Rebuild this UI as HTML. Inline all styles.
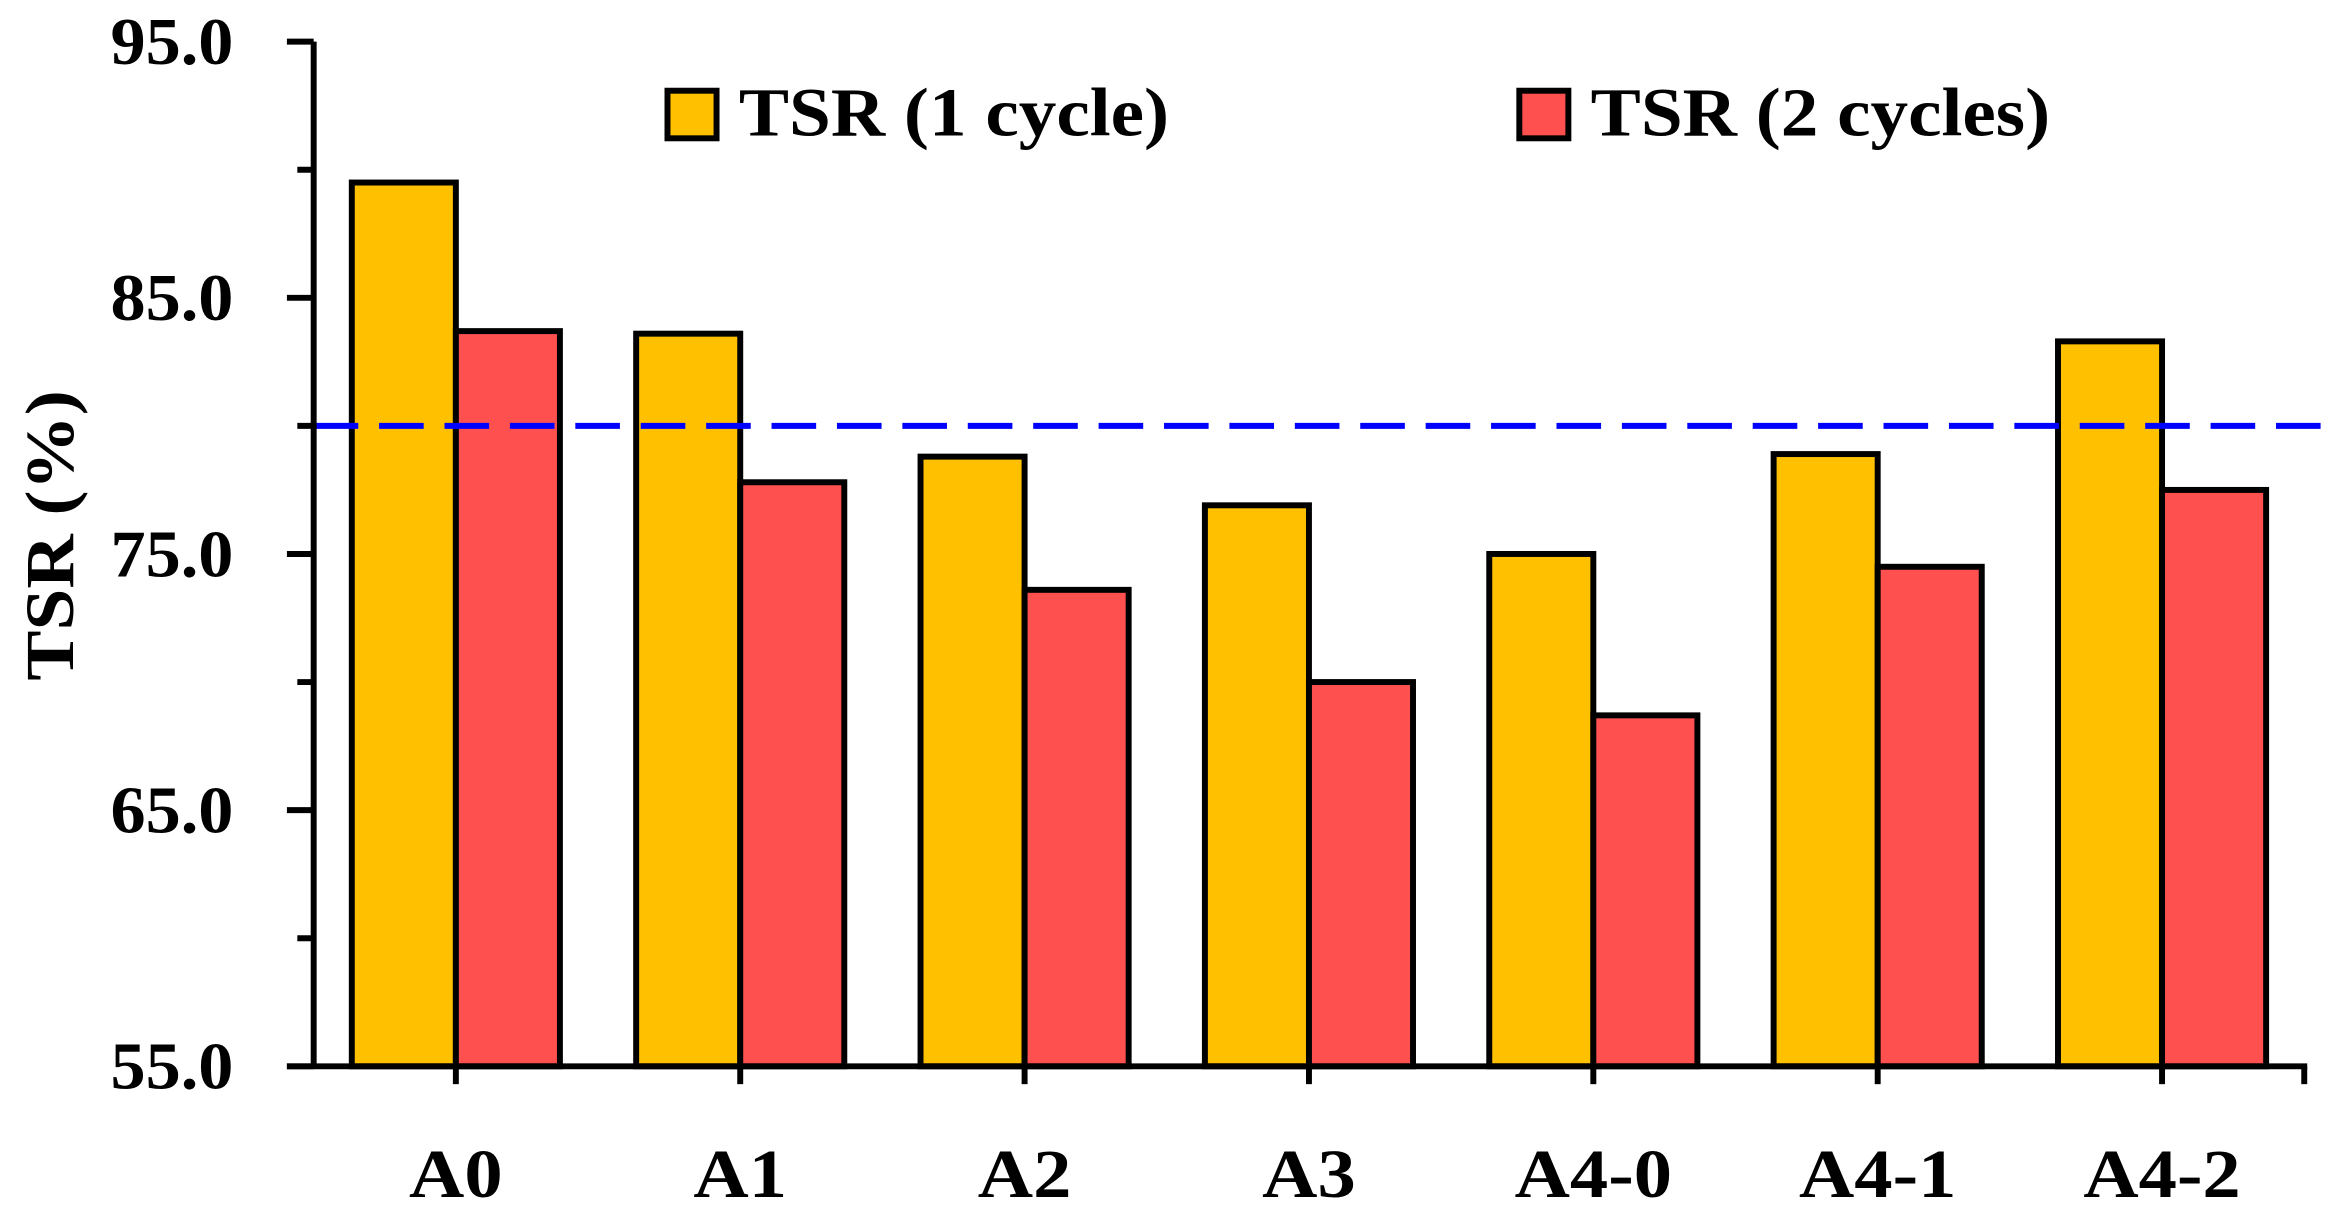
<!DOCTYPE html>
<html><head><meta charset="utf-8"><style>html,body{margin:0;padding:0;background:#fff}svg{display:block}</style></head>
<body>
<svg id="chart" width="2331" height="1218" viewBox="0 0 1568 819" preserveAspectRatio="none" xmlns="http://www.w3.org/2000/svg" font-family="'Liberation Serif', serif" font-weight="bold"></svg>
<script>
const categories = ["A0","A1","A2","A3","A4-0","A4-1","A4-2"];
const tsr1 = [89.5,83.6,78.8,76.9,75.0,78.9,83.3];
const tsr2 = [83.7,77.8,73.6,70.0,68.7,74.5,77.5];
const yTicks = [55,65,75,85,95];
const yMinor = [60,70,80,90];
const threshold = [80];
const seriesNames = ["TSR (1 cycle)","TSR (2 cycles)"];

const svg = document.getElementById('chart');
const NS = 'http://www.w3.org/2000/svg';
const X0 = 211, X1 = 1550, Ytop = 28, Ybot = 717, ymin = 55, ymax = 95;
const y = v => Ybot - (v - ymin) / (ymax - ymin) * (Ybot - Ytop);
const bw = (X1 - X0) / categories.length;
const cx = i => X0 + bw * (i + 0.5);
const barW = 70;
function mk(tag, attrs){const e=document.createElementNS(NS,tag);for(const k in attrs)e.setAttribute(k,attrs[k]);svg.appendChild(e);return e;}
function stretch(t, f){const L=t.getComputedTextLength();t.setAttribute('textLength',L*f);t.setAttribute('lengthAdjust','spacingAndGlyphs');}

// bars
categories.forEach((c,i)=>{
  const b1 = mk('rect',{x:cx(i)-barW,y:y(tsr1[i]),width:barW,height:Ybot-y(tsr1[i]),fill:'#FFC000',stroke:'#000','stroke-width':4});
  
  
  const b2 = mk('rect',{x:cx(i),y:y(tsr2[i]),width:barW,height:Ybot-y(tsr2[i]),fill:'#FF5050',stroke:'#000','stroke-width':4});
  
  
  const t = mk('text',{x:cx(i),y:805,'text-anchor':'middle','font-size':46});
  t.textContent = c;
  
  
  stretch(t,1.12);
  const tk = mk('line',{x1:cx(i),x2:cx(i),y1:Ybot,y2:Ybot+12,stroke:'#000','stroke-width':4});
  
  
});
const tkEnd = mk('line',{x1:X1,x2:X1,y1:Ybot,y2:Ybot+12,stroke:'#000','stroke-width':4});



// threshold line
threshold.forEach(v=>{
  const l = mk('line',{x1:X0,x2:1568,y1:y(v),y2:y(v),stroke:'#0000FF','stroke-width':4,'stroke-dasharray':'30 14'});
  
  
});

// axes
const ax = mk('line',{x1:X0,x2:X0,y1:Ytop,y2:Ybot,stroke:'#000','stroke-width':4});


const xa = mk('line',{x1:X0-18,x2:X1+2,y1:Ybot,y2:Ybot,stroke:'#000','stroke-width':4});


yTicks.forEach(v=>{
  const l = mk('line',{x1:X0-18,x2:X0,y1:y(v),y2:y(v),stroke:'#000','stroke-width':4});
  
  
  const t = mk('text',{x:157,y:y(v)+15,'text-anchor':'end','font-size':45});
  t.textContent = v.toFixed(1);
  
  
  stretch(t,1.05);
});
yMinor.forEach(v=>{
  const l = mk('line',{x1:X0-11,x2:X0,y1:y(v),y2:y(v),stroke:'#000','stroke-width':4});
  
  
});
const yt = mk('text',{x:0,y:0,'text-anchor':'middle','font-size':46,transform:'translate(49,360) rotate(-90)'});
yt.textContent = 'TSR (%)';


stretch(yt,1.1);

// legend
const legX = [449,1022], legCol = ['#FFC000','#FF5050'];
seriesNames.forEach((n,i)=>{
  const r = mk('rect',{x:legX[i],y:61,width:33,height:32,fill:legCol[i],stroke:'#000','stroke-width':4});
  
  
  const t = mk('text',{x:legX[i]+48,y:91,'font-size':46});
  t.textContent = n;
  
  
  stretch(t,1.1);
});
</script>
</body></html>
